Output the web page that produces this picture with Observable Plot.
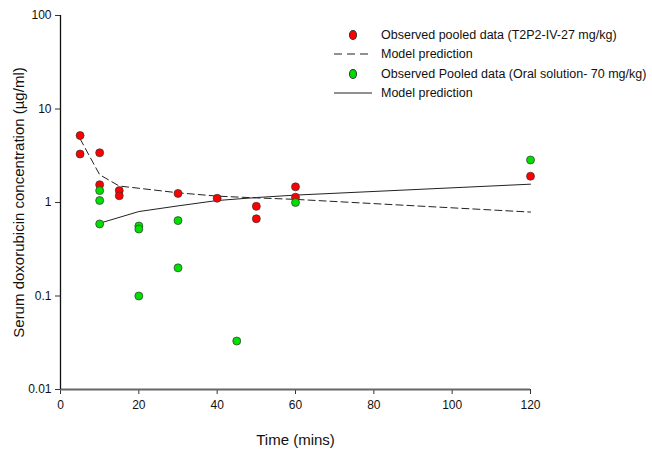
<!DOCTYPE html>
<html>
<head>
<meta charset="utf-8">
<script src="https://cdn.jsdelivr.net/npm/d3@7"></script>
<script src="https://cdn.jsdelivr.net/npm/@observablehq/plot@0.6"></script>
<style>
  html, body { margin: 0; padding: 0; background: #fff; }
  #wrap { position: relative; width: 652px; height: 457px; font-family: "Liberation Sans", Arial, sans-serif; }
  #legend { position: absolute; left: 330px; top: 25px; font-size: 12.5px; color: #111; }
  .row { display: flex; align-items: center; height: 19.5px; }
  .sym { width: 46px; display: flex; justify-content: center; align-items: center; }
  .dot { width: 6px; height: 8px; border-radius: 50%; border: 0.8px solid #333; }
  .txt { margin-left: 5px; white-space: nowrap; }
</style>
</head>
<body>
<div id="wrap"></div>
<script>
// Observed pooled data, IV (T2P2-IV-27 mg/kg)
const ivTime = [5, 5, 10, 10, 15, 15, 30, 40, 50, 50, 60, 60, 120];
const ivConc = [5.2, 3.3, 3.4, 1.55, 1.34, 1.18, 1.25, 1.11, 0.91, 0.67, 1.47, 1.14, 1.91];
// Observed pooled data, oral solution 70 mg/kg
const oralTime = [10, 10, 10, 20, 20, 20, 30, 30, 45, 60, 120];
const oralConc = [1.34, 1.05, 0.59, 0.56, 0.52, 0.1, 0.64, 0.2, 0.033, 1.0, 2.85];
// Model predictions
const ivModelTime = [5, 10, 15, 20, 30, 40, 50, 60, 120];
const ivModelConc = [4.8, 1.98, 1.5, 1.42, 1.27, 1.17, 1.12, 1.08, 0.79];
const oralModelTime = [10, 20, 30, 40, 50, 60, 120];
const oralModelConc = [0.6, 0.8, 0.92, 1.05, 1.13, 1.2, 1.57];
// Ticks
const xTicks = [0, 20, 40, 60, 80, 100, 120];
const yTicks = [0.01, 0.1, 1, 10, 100];
const yTickLabels = ["0.01", "0.1", "1", "10", "100"];

const ivPts = ivTime.map((t, i) => ({t, c: ivConc[i]}));
const oralPts = oralTime.map((t, i) => ({t, c: oralConc[i]}));
const ivModel = ivModelTime.map((t, i) => ({t, c: ivModelConc[i]}));
const oralModel = oralModelTime.map((t, i) => ({t, c: oralModelConc[i]}));

const chart = Plot.plot({
  width: 652,
  height: 457,
  marginLeft: 60,
  marginRight: 122,
  marginTop: 15,
  marginBottom: 68,
  style: { fontFamily: "'Liberation Sans', Arial, sans-serif", fontSize: "12px", color: "#111", background: "#fff" },
  x: { domain: [0, 120] },
  y: { type: "log", domain: [0.01, 100] },
  marks: [
    Plot.axisX({ ticks: xTicks, tickSize: 5, tickPadding: 6, fontSize: 12, stroke: "#333",
      label: "Time (mins)", labelAnchor: "center", labelArrow: "none", labelOffset: 55 }),
    Plot.axisY({ ticks: yTicks, tickSize: 5, tickPadding: 4, fontSize: 12, stroke: "#333",
      tickFormat: (d) => yTickLabels[yTicks.indexOf(d)],
      label: "Serum doxorubicin concentration (µg/ml)", labelAnchor: "center", labelArrow: "none", labelOffset: 47 }),
    Plot.ruleY([0.01], { stroke: "#666", strokeWidth: 2 }),
    Plot.ruleX([0], { stroke: "#111", strokeWidth: 1.3 }),
    Plot.line(ivModel, { x: "t", y: "c", stroke: "#222", strokeWidth: 1, strokeDasharray: "7,4" }),
    Plot.line(oralModel, { x: "t", y: "c", stroke: "#222", strokeWidth: 1 }),
    Plot.dot(ivPts, { x: "t", y: "c", r: 4, fill: "#ff0000", stroke: "#333", strokeWidth: 0.7 }),
    Plot.dot(oralPts, { x: "t", y: "c", r: 4, fill: "#00e000", stroke: "#333", strokeWidth: 0.7 })
  ]
});
chart.querySelectorAll("g[aria-label='x-axis label'] text, g[aria-label='y-axis label'] text").forEach(t => t.setAttribute("font-size", "15"));
const wrap = document.getElementById("wrap");
wrap.appendChild(chart);

const legendItems = [
  { kind: "dot", color: "#ff0000", label: "Observed pooled data (T2P2-IV-27 mg/kg)" },
  { kind: "dash", label: "Model prediction" },
  { kind: "dot", color: "#00e000", label: "Observed Pooled data (Oral solution- 70 mg/kg)" },
  { kind: "solid", label: "Model prediction" }
];
const lg = document.createElement("div");
lg.id = "legend";
const svgNS = "http://www.w3.org/2000/svg";
for (const it of legendItems) {
  const row = document.createElement("div"); row.className = "row";
  const sym = document.createElement("div"); sym.className = "sym";
  if (it.kind === "dot") {
    const s = document.createElement("div"); s.className = "dot"; s.style.background = it.color;
    sym.appendChild(s);
  } else {
    const sv = document.createElementNS(svgNS, "svg");
    sv.setAttribute("width", "38"); sv.setAttribute("height", "4");
    const ln = document.createElementNS(svgNS, "line");
    ln.setAttribute("x1", "0"); ln.setAttribute("x2", "38");
    ln.setAttribute("y1", "2"); ln.setAttribute("y2", "2");
    ln.setAttribute("stroke", "#222"); ln.setAttribute("stroke-width", "1");
    if (it.kind === "dash") ln.setAttribute("stroke-dasharray", "8,5");
    sv.appendChild(ln);
    sym.appendChild(sv);
  }
  const tx = document.createElement("div"); tx.className = "txt"; tx.textContent = it.label;
  row.appendChild(sym); row.appendChild(tx);
  lg.appendChild(row);
}
wrap.appendChild(lg);
</script>
</body>
</html>
